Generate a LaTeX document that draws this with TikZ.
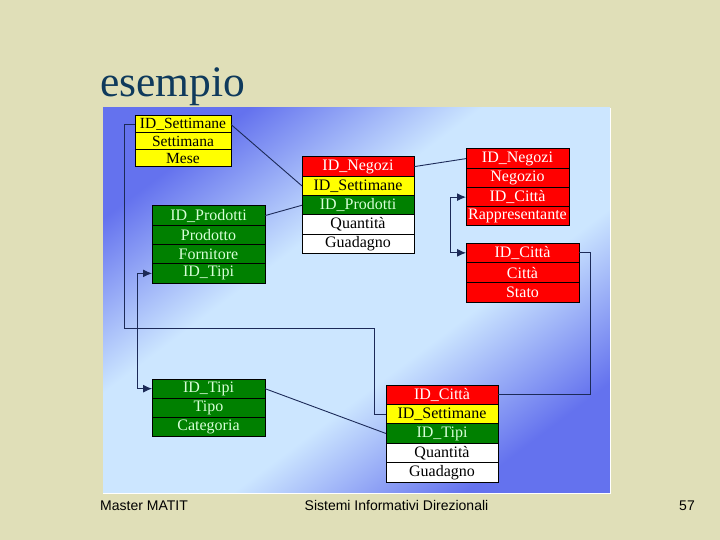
\documentclass[tikz,border=0pt]{standalone}
\usepackage{fontspec}
\setmainfont{Liberation Serif}
\setsansfont{Liberation Sans}
\usepackage{tikz}
\usetikzlibrary{arrows.meta, positioning}
\definecolor{slidebg}{HTML}{E0DFB8}
\definecolor{paneldark}{HTML}{6472EE}
\definecolor{panellight}{HTML}{CCE6FF}
\definecolor{keyred}{HTML}{FF0000}
\definecolor{keyyellow}{HTML}{FFFF00}
\definecolor{keygreen}{HTML}{008000}
\definecolor{greentext}{HTML}{D8FFD8}
\definecolor{titleblue}{HTML}{0F3A5C}
\definecolor{linkblue}{HTML}{1C2A58}
\pgfdeclareverticalshading{panelshade}{100bp}{
  color(0bp)=(paneldark); color(25bp)=(paneldark);
  color(41bp)=(panellight); color(59bp)=(panellight);
  color(75bp)=(paneldark); color(100bp)=(paneldark)}
\newcommand{\rowfont}{\fontsize{16}{17}\selectfont}
\tikzset{
  % table rows
  tabrow/.style={
    rectangle, draw=black, line width=1pt,
    outer sep=0pt, inner sep=0pt,
    minimum height=19.3pt, font=\rowfont
  },
  redrow/.style={tabrow, fill=keyred, text=white},
  yelrow/.style={tabrow, fill=keyyellow, text=black},
  grnrow/.style={tabrow, fill=keygreen, text=greentext},
  whtrow/.style={tabrow, fill=white, text=black},
  % connectors
  link/.style={draw=linkblue, line width=0.9pt},
  twoway/.style={
    link, {Latex[length=9pt,width=8pt]}-{Latex[length=9pt,width=8pt]}
  },
  footer/.style={
    font=\sffamily\fontsize{14}{16}\selectfont,
    anchor=base, inner sep=0pt
  }
}
\begin{document}
\begin{tikzpicture}[x=1pt, y=-1pt, node distance=0pt,
  settw/.style={minimum width=96pt, minimum height=17pt,
    font=\fontsize{15.5}{16}\selectfont},
  prodw/.style={minimum width=113pt, minimum height=19.25pt},
  fattw/.style={minimum width=112pt, minimum height=19.3pt},
  negw/.style={minimum width=103pt, minimum height=19.25pt},
  cittw/.style={minimum width=113pt, minimum height=19.7pt}]

  \useasboundingbox[fill=slidebg] (0,0) rectangle (720,540);
  \shade[shading=panelshade, shading angle=37] (103,108) rectangle (610,493);
  \draw[white, line width=1.5pt] (610.5,108) -- (610.5,493.5) -- (103,493.5);

  \node[font=\fontsize{43.5}{48}\selectfont, text=titleblue,
    anchor=base west, inner sep=0pt] (title) at (100,97) {esempio};

  % Settimane
  \node[yelrow, settw, anchor=north west] (s1) at (135,116) {ID\_Settimane};
  \node[yelrow, settw, below=of s1] (s2) {Settimana};
  \node[yelrow, settw, below=of s2] (s3) {Mese};

  % Prodotti
  \node[grnrow, prodw, anchor=north west] (p1) at (152,206) {ID\_Prodotti};
  \node[grnrow, prodw, below=of p1] (p2) {Prodotto};
  \node[grnrow, prodw, below=of p2] (p3) {Fornitore};
  \node[grnrow, prodw, below=of p3] (p4) {ID\_Tipi};

  % Tipi
  \node[grnrow, prodw, minimum height=19.3pt, anchor=north west] (t1) at (152,379) {ID\_Tipi};
  \node[grnrow, prodw, minimum height=19.3pt, below=of t1] (t2) {Tipo};
  \node[grnrow, prodw, minimum height=19.3pt, below=of t2] (t3) {Categoria};

  % Vendite per negozio
  \node[redrow, fattw, anchor=north west] (f1) at (302,157) {ID\_Negozi};
  \node[yelrow, fattw, below=of f1] (f2) {ID\_Settimane};
  \node[grnrow, fattw, below=of f2] (f3) {ID\_Prodotti};
  \node[whtrow, fattw, below=of f3] (f4) {Quantità};
  \node[whtrow, fattw, below=of f4] (f5) {Guadagno};

  % Negozi
  \node[redrow, negw, anchor=north west] (n1) at (466,149) {ID\_Negozi};
  \node[redrow, negw, below=of n1] (n2) {Negozio};
  \node[redrow, negw, below=of n2] (n3) {ID\_Città};
  \node[redrow, negw, below=of n3] (n4) {Rappresentante};

  % Città
  \node[redrow, cittw, anchor=north west] (c1) at (466,243) {ID\_Città};
  \node[redrow, cittw, below=of c1] (c2) {Città};
  \node[redrow, cittw, below=of c2] (c3) {Stato};

  % Vendite per città
  \node[redrow, fattw, minimum height=19.4pt, anchor=north west] (g1) at (386,385) {ID\_Città};
  \node[yelrow, fattw, minimum height=19.4pt, below=of g1] (g2) {ID\_Settimane};
  \node[grnrow, fattw, minimum height=19.4pt, below=of g2] (g3) {ID\_Tipi};
  \node[whtrow, fattw, minimum height=19.4pt, below=of g3] (g4) {Quantità};
  \node[whtrow, fattw, minimum height=19.4pt, below=of g4] (g5) {Guadagno};

  \draw[link] (s1.east) -- (f2.west);
  \draw[link] (p1.east) -- (f3.west);
  \draw[link] (f1.east) -- (n1.west);
  \draw[link] (t1.east) -- (g3.west);
  \draw[link] (s1.west) -- ++(-11,0) |- (374,328) |- (g2.west);
  \draw[link] (c1.east) -- ++(11,0) |- (g1.east);
  \draw[twoway] (p4.west) -- ++(-15,0) |- (t1.west);
  \draw[twoway] (n3.west) -- ++(-16,0) |- (c1.west);

  % footer
  \node[footer, anchor=base west] (lft) at (100,510) {Master MATIT};
  \node[footer] (mid) at (396.5,510) {Sistemi Informativi Direzionali};
  \node[footer] (pag) at (687,510) {57};

\end{tikzpicture}
\end{document}
